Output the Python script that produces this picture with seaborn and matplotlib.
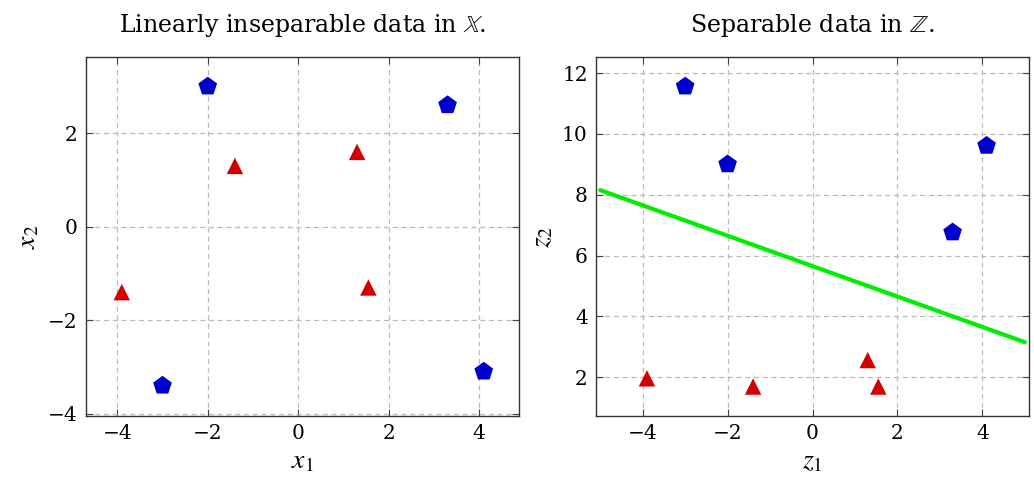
import numpy as np
import pandas as pd
import matplotlib
matplotlib.use("Agg")
import matplotlib.pyplot as plt
import seaborn as sns

# points in the original space X
x1_blue = [-2.0, 3.3, -3.0, 4.1]
x2_blue = [3.0, 2.6, -3.4, -3.1]
x1_red = [-1.4, 1.3, -3.9, 1.55]
x2_red = [1.3, 1.6, -1.4, -1.3]

# points in the feature space Z
z1_blue = [-2.0, 3.3, -3.0, 4.1]
z2_blue = [9.0, 6.76, 11.56, 9.61]
z1_red = [-1.4, 1.3, -3.9, 1.55]
z2_red = [1.69, 2.56, 1.96, 1.69]

# separating line in Z
line_z1 = [-5.0, 5.0]
line_z2 = [8.15, 3.15]

BLUE = "#0000cc"
RED = "#d40000"
GREEN = "#00ee00"

sns.set_theme(style="white")
plt.rcParams["font.family"] = ["DejaVu Serif"]
plt.rcParams["mathtext.fontset"] = "stix"
for k in ["text.color", "axes.labelcolor", "xtick.labelcolor", "ytick.labelcolor"]:
    plt.rcParams[k] = "black"


def style_axes(ax):
    ax.grid(True, linestyle=(0, (4, 3)), color="#bbbbbb", lw=0.9)
    ax.tick_params(direction="in", length=5, width=0.8, color="#444444",
                   top=True, right=True, bottom=True, left=True,
                   labelsize=14.5, pad=6)
    for s in ax.spines.values():
        s.set_color("#333333")
        s.set_linewidth(1.0)
    ax.set_axisbelow(True)


fig = plt.figure(figsize=(10.34, 4.79), dpi=100)
ax1 = fig.add_axes([0.0832, 0.1315, 0.4188, 0.7495])
ax2 = fig.add_axes([0.5764, 0.1315, 0.4188, 0.7495])

left = pd.DataFrame({
    "a": x1_blue + x1_red,
    "b": x2_blue + x2_red,
    "cls": ["blue"] * len(x1_blue) + ["red"] * len(x1_red),
})
right = pd.DataFrame({
    "a": z1_blue + z1_red,
    "b": z2_blue + z2_red,
    "cls": ["blue"] * len(z1_blue) + ["red"] * len(z1_red),
})

pal = {"blue": BLUE, "red": RED}
mk = {"blue": "p", "red": "^"}
sz = {"blue": 200, "red": 140}

sns.scatterplot(data=left, x="a", y="b", hue="cls", style="cls", size="cls",
                palette=pal, markers=mk, sizes=sz, edgecolor="none",
                legend=False, ax=ax1, zorder=3)
ax1.set_xlim(-4.69, 4.88)
ax1.set_ylim(-4.05, 3.63)
ax1.set_xticks([-4, -2, 0, 2, 4])
ax1.set_yticks([-4, -2, 0, 2])
ax1.set_xticklabels(["\u22124", "\u22122", "0", "2", "4"])
ax1.set_yticklabels(["\u22124", "\u22122", "0", "2"])
ax1.set_xlabel(r"$x_1$", fontsize=20, labelpad=3)
ax1.set_ylabel(r"$x_2$", fontsize=20, labelpad=5)
ax1.set_title(r"Linearly inseparable data in $\mathbb{X}$.", fontsize=17, pad=18)
style_axes(ax1)

sns.lineplot(x=line_z1, y=line_z2, color=GREEN, lw=3, ax=ax2, zorder=2)
sns.scatterplot(data=right, x="a", y="b", hue="cls", style="cls", size="cls",
                palette=pal, markers=mk, sizes=sz, edgecolor="none",
                legend=False, ax=ax2, zorder=3)
ax2.set_xlim(-5.1, 5.1)
ax2.set_ylim(0.72, 12.53)
ax2.set_xticks([-4, -2, 0, 2, 4])
ax2.set_yticks([2, 4, 6, 8, 10, 12])
ax2.set_xticklabels(["\u22124", "\u22122", "0", "2", "4"])
ax2.set_xlabel(r"$z_1$", fontsize=20, labelpad=3)
ax2.set_ylabel(r"$z_2$", fontsize=20, labelpad=5)
ax2.set_title(r"Separable data in $\mathbb{Z}$.", fontsize=17, pad=18)
style_axes(ax2)

fig.savefig("out.png", dpi=100)
plt.close(fig)
